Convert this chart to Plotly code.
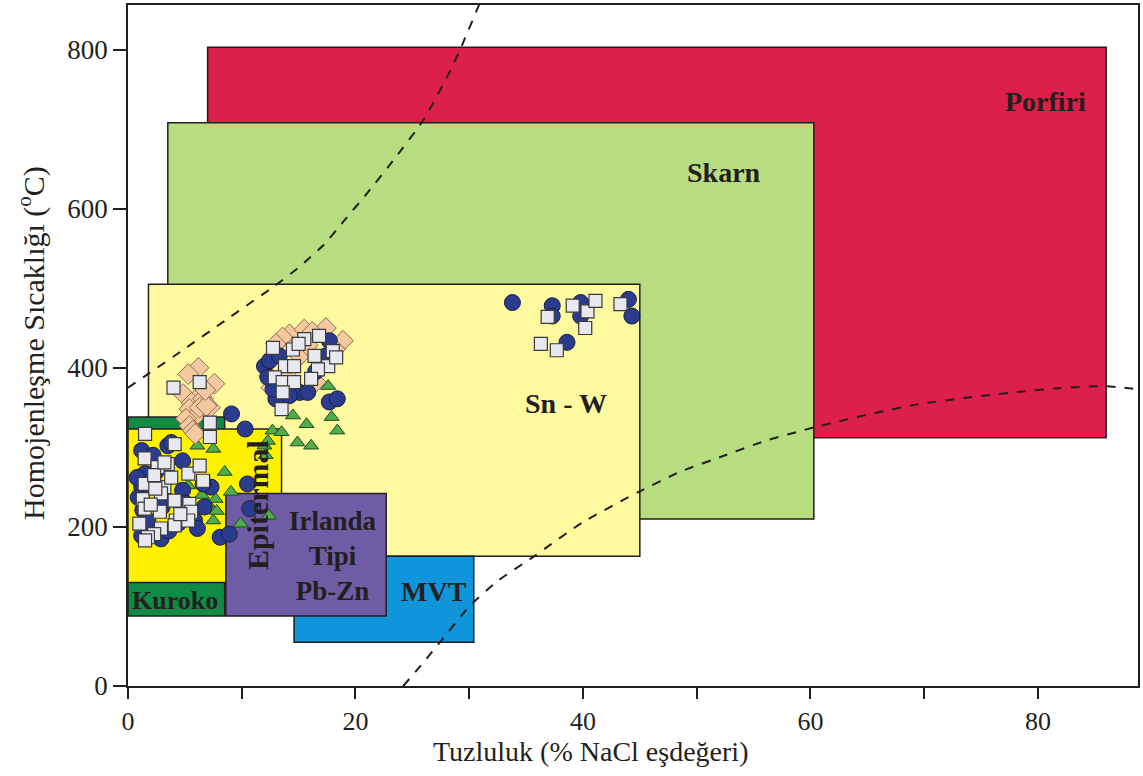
import plotly.graph_objects as go

# colours
ink = '#231F20'
box_colors = {
    'Porfiri': '#DC1F4B',
    'Skarn': '#B8DC80',
    'Sn-W': '#FFF9A0',
    'MVT': '#1095DA',
    'Kuroko': '#0F8B45',
    'Epitermal': '#FFF200',
    'Irlanda': '#6E5CA4',
}

# deposit fields: salinity (x) and temperature (y) ranges, drawn in this order
box_names = ['Porfiri', 'Skarn', 'Sn-W', 'MVT', 'Kuroko', 'Epitermal', 'Irlanda']
box_x0 = [7.0, 3.5, 1.8, 14.6, 0.0, 0.0, 8.6]
box_x1 = [86.0, 60.3, 45.0, 30.4, 8.5, 13.5, 22.7]
box_y0 = [312, 210, 163, 55, 88, 130, 88]
box_y1 = [803, 708, 505, 163, 338, 323, 242]

# dashed curves
upper_x = [0.0, 1.75, 5.0, 8.5, 12.9, 15.0, 17.25, 19.0, 21.0, 23.5, 26.0, 28.0, 29.2, 30.8, 31.3]
upper_y = [375, 392, 424, 459, 503, 526, 555, 585, 619, 664, 712, 764, 800, 854, 872]
lower_x = [24.2, 26.0, 27.6, 30.0, 32.5, 35.7, 40.0, 44.9, 48.5, 52.5, 56.0, 60.3, 65.0,
           69.4, 73.5, 77.8, 81.5, 85.8, 88.8]
lower_y = [0, 30, 58, 100, 132, 163, 206, 244, 269, 290, 308, 325, 341,
           354, 362, 369, 374, 377, 373]

# fluid inclusion data
circle_x = [1.2, 3.5, 4.8, 1.5, 1.2, 0.9, 1.3, 1.75, 1.2, 2.9, 4.4, 5.85, 6.1, 7.3, 6.7,
            4.8, 10.5, 10.7, 8.1, 8.9, 9.1, 10.3, 3.8, 6.6, 2.5, 3.0, 5.0, 2.2, 0.8, 3.6,
            12.0, 12.45, 13.3, 15.1, 15.8, 17.7, 18.4, 13.0, 14.2, 12.75, 17.7, 17.4, 16.5, 12.3,
            33.8, 37.3, 37.3, 39.8, 39.8, 38.6, 44.0, 44.3]
circle_y = [296, 302, 283, 267, 250, 237, 221, 208, 189, 185, 204, 208, 198, 250, 225,
            246, 254, 223, 187, 191, 342, 323, 306, 254, 270, 225, 230, 290, 262, 195,
            402, 409, 415, 369, 369, 357, 361, 361, 365, 373, 434, 415, 395, 388,
            482, 478, 465, 482, 465, 432, 486, 465]

square_x = [1.46, 4.1, 3.5, 2.6, 5.3, 6.3, 1.46, 3.2, 2.9, 4.1, 5.4, 1.3, 1.46, 2.8, 5.55,
            4.2, 5.3, 2.9, 2.3, 4.1, 1.75, 6.6, 2.3, 1.5, 7.2, 7.2, 3.2, 1.5, 4.0, 6.3,
            2.0, 3.8, 4.6, 2.4, 1.0,
            12.75, 14.5, 15.5, 16.8, 18.0, 16.4, 13.8, 14.6, 17.6, 16.7, 12.9, 13.6, 14.6,
            16.1, 13.6, 13.5, 18.3, 15.0,
            36.9, 39.1, 40.4, 41.1, 40.2, 43.3, 36.3, 37.7]
square_y = [286, 304, 279, 275, 267, 277, 254, 250, 242, 233, 229, 235, 223, 219, 219,
            208, 208, 198, 191, 202, 187, 258, 265, 317, 331, 313, 281, 183, 375, 382,
            228, 262, 216, 248, 204,
            425, 423, 436, 440, 421, 415, 402, 402, 402, 398, 388, 382, 382,
            386, 369, 348, 413, 430,
            464, 478, 471, 484, 450, 480, 430, 422]

diamond_x = [6.2, 5.3, 7.6, 4.85, 6.3, 5.6, 6.6, 7.2, 5.4, 6.0, 5.1, 5.4, 5.7, 6.3, 5.9, 6.9, 6.8,
             14.2, 15.5, 17.4, 18.9, 13.6, 16.2, 18.2, 12.6, 16.5, 15.1, 13.0, 15.8, 14.0, 12.4]
diamond_y = [400, 392, 380, 367, 365, 356, 361, 350, 348, 340, 336, 327, 321, 350, 317, 352, 372,
             442, 448, 450, 434, 438, 445, 423, 375, 382, 415, 430, 428, 395, 390]

triangle_x = [6.1, 7.5, 8.5, 9.05, 7.7, 7.0, 7.5, 9.9, 12.4, 5.3, 12.0, 12.1, 12.7, 13.5, 12.3,
              6.5, 7.8, 14.5, 15.7, 17.9, 18.4, 14.9, 16.1, 17.6]
triangle_y = [302, 298, 269, 244, 235, 229, 208, 204, 214, 252, 302, 290, 321, 319, 308,
              240, 220, 340, 329, 338, 321, 306, 302, 377]

fig = go.Figure()

for name, x0, x1, y0, y1 in zip(box_names, box_x0, box_x1, box_y0, box_y1):
    fig.add_shape(type='rect', x0=x0, x1=x1, y0=y0, y1=y1, xref='x', yref='y',
                  fillcolor=box_colors[name], line=dict(color=ink, width=1.5), layer='below')

for cx, cy in [(upper_x, upper_y), (lower_x, lower_y)]:
    fig.add_trace(go.Scatter(x=cx, y=cy, mode='lines', line=dict(color=ink, width=2, dash='dash'),
                             line_shape='spline', line_smoothing=0.5,
                             hoverinfo='skip', showlegend=False))

fig.add_trace(go.Scatter(x=triangle_x, y=triangle_y, mode='markers', showlegend=False,
                         marker=dict(symbol='triangle-up', size=13, color='#4FAE4A',
                                     line=dict(color='#1F4A22', width=1))))
fig.add_trace(go.Scatter(x=diamond_x, y=diamond_y, mode='markers', showlegend=False,
                         marker=dict(symbol='diamond', size=16, color='#F6C8A0',
                                     line=dict(color='#8A6A50', width=1))))
fig.add_trace(go.Scatter(x=circle_x, y=circle_y, mode='markers', showlegend=False,
                         marker=dict(symbol='circle', size=16, color='#2B3B8E',
                                     line=dict(color='#1A1F40', width=1))))
fig.add_trace(go.Scatter(x=square_x, y=square_y, mode='markers', showlegend=False,
                         marker=dict(symbol='square', size=13, color='#E8E9F0',
                                     line=dict(color='#3A3A3A', width=1.2))))

label_font = dict(family='Liberation Serif', color=ink)
labels = [
    ('<b>Porfiri</b>', 80.7, 735, 28, 0),
    ('<b>Skarn</b>', 52.4, 646, 28, 0),
    ('<b>Sn - W</b>', 38.5, 355, 28, 0),
    ('<b>Irlanda<br>Tipi<br>Pb-Zn</b>', 18.0, 164, 27, 0),
    ('<b>MVT</b>', 26.9, 119, 28, 0),
    ('<b>Kuroko</b>', 4.1, 108, 26, 0),
    ('<b>Epitermal</b>', 11.4, 227, 30, -90),
]
for text, lx, ly, size, angle in labels:
    fig.add_annotation(x=lx, y=ly, text=text, showarrow=False, textangle=angle,
                       font=dict(size=size, **label_font))

fig.add_annotation(xref='paper', yref='paper', x=-0.0949, y=0.504, showarrow=False,
                   xanchor='center', yanchor='middle',
                   text='Homojenleşme Sıcaklığı (<sup>o</sup>C)', textangle=-90,
                   font=dict(family='Liberation Serif', size=30, color=ink))
fig.add_annotation(xref='paper', yref='paper', x=0.4575, y=-0.0966, showarrow=False,
                   xanchor='center', yanchor='middle',
                   text='Tuzluluk (% NaCl eşdeğeri)',
                   font=dict(family='Liberation Serif', size=28, color=ink))

fig.update_layout(
    width=1143, height=776,
    margin=dict(l=128, r=3, t=3, b=90),
    plot_bgcolor='white', paper_bgcolor='white',
    xaxis=dict(range=[0, 88.8], tickvals=[0, 20, 40, 60, 80], ticks='outside', ticklen=11,
               tickwidth=1.5, tickcolor=ink, showgrid=False, zeroline=False,
               showline=True, linecolor=ink, linewidth=1.5, mirror=True,
               tickfont=dict(family='Liberation Serif', size=26, color=ink),
               minor=dict(tickvals=[10, 30, 50, 70], ticks='outside', ticklen=11,
                          tickwidth=1.5, tickcolor=ink)),
    yaxis=dict(range=[0, 856], tickvals=[0, 200, 400, 600, 800], ticks='outside', ticklen=13,
               tickwidth=1.5, tickcolor=ink, showgrid=False, zeroline=False,
               showline=True, linecolor=ink, linewidth=1.5, mirror=True,
               tickfont=dict(family='Liberation Serif', size=27, color=ink)),
)

fig.write_html('out.html', config={'displayModeBar': False},
               post_script="document.body.style.margin='0';")
